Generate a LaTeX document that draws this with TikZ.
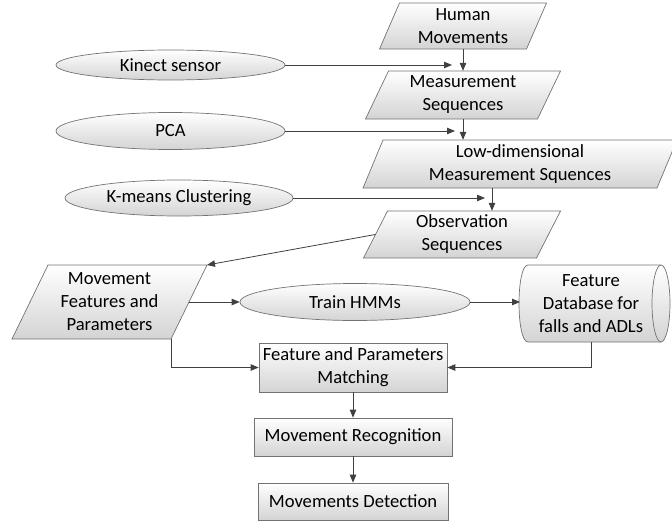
\documentclass[tikz,border=0pt]{standalone}
\usepackage{fontspec}
\setmainfont{Carlito}
\usetikzlibrary{arrows.meta,shapes.geometric,calc}
\tikzset{
  shp/.style={draw=black!55, line width=0.7pt, top color=white, bottom color=black!17},
  txt/.style={font=\fontsize{18.6}{23}\selectfont, align=center, text=black, inner sep=0pt},
  ell/.style={shp, ellipse, txt},
  rectbox/.style={shp, rectangle, txt},
  arr/.style={draw=black!75, line width=0.8pt, -{Triangle[length=8pt,width=6.5pt]}},
}
\newcommand{\mypara}[7]{%
  \path[shp] ({#2-#4/2+#6/2},{#3-#5/2}) -- ({#2+#4/2+#6/2},{#3-#5/2}) -- ({#2+#4/2-#6/2},{#3+#5/2}) -- ({#2-#4/2-#6/2},{#3+#5/2}) -- cycle;
  \node[txt, minimum width=#4pt, minimum height=#5pt] (#1) at (#2,#3) {#7};
  \coordinate (#1-tr) at ({#2+#4/2+#6/2},{#3-#5/2});
  \coordinate (#1-br) at ({#2+#4/2-#6/2},{#3+#5/2});
}
\begin{document}
\begin{tikzpicture}[x=1pt,y=-1pt]
\clip (0,0) rectangle (672,522);
% parallelograms
\mypara{hm}{463}{26}{147}{46}{20}{Human\\Movements}
\mypara{ms}{463}{95}{172}{48}{23}{Measurement\\Sequences}
\mypara{ld}{520}{164}{294}{48}{20}{Low-dimensional\\Measurement Squences}
\mypara{os}{462}{234.5}{173}{47}{24}{Observation\\Sequences}
\mypara{mf}{109.5}{302}{159}{74}{36}{Movement\\Features and\\Parameters}
% ellipses
\node[ell, minimum width=229pt, minimum height=30pt] (ks) at (170.5,65) {Kinect sensor};
\node[ell, minimum width=229pt, minimum height=37pt] (pca) at (170.5,131) {PCA};
\node[ell, minimum width=228pt, minimum height=36pt] (km) at (179,198) {K-means Clustering};
\node[ell, minimum width=230pt, minimum height=37pt] (th) at (355,302) {Train HMMs};
% database
\path[shp] (528,265) -- (661,265) arc[start angle=90, end angle=-90, x radius=9pt, y radius=38.5pt]
  -- (528,342) .. controls (516,342) and (516,265) .. (528,265) -- cycle;
\draw[draw=black!55, line width=0.7pt] (661,265) arc[start angle=90, end angle=270, x radius=9pt, y radius=38.5pt];
\node[txt] (db) at (591,303.5) {Feature\\Database for\\falls and ADLs};
\coordinate (dbw) at (520,303.5);
\coordinate (dbb) at (591,342);
% rectangles
\node[rectbox, minimum width=188pt, minimum height=49pt] (fm) at (353,367.5) {Feature and Parameters\\Matching};
\node[rectbox, minimum width=198pt, minimum height=38pt] (mr) at (353,437) {Movement Recognition};
\node[rectbox, minimum width=190pt, minimum height=37pt] (md) at (353,501.5) {Movements Detection};
% connectors
\coordinate (ksend) at (452,65);
\coordinate (pcaend) at (455,131);
\coordinate (kmend) at (485,198);
\draw[arr] (ks.east) -- (ksend);
\draw[arr] (hm.south) -- (ms.north);
\draw[arr] (pca.east) -- (pcaend);
\draw[arr] (ms.south) -- (ms.south |- ld.north);
\draw[arr] (km.east) -- (kmend);
\draw[arr] ([xshift=-28pt]ld.south) -- ([xshift=-28pt]ld.south |- os.north);
\draw[arr] (os.west) -- (mf-tr);
\draw[arr] (mf.east) -- (th.west);
\draw[arr] (th.east) -- (th.east -| dbw);
\draw[arr] (mf-br) |- (fm.west);
\draw[arr] (dbb) |- (fm.east);
\draw[arr] (fm.south) -- (mr.north);
\draw[arr] (mr.south) -- (md.north);
\end{tikzpicture}
\end{document}
